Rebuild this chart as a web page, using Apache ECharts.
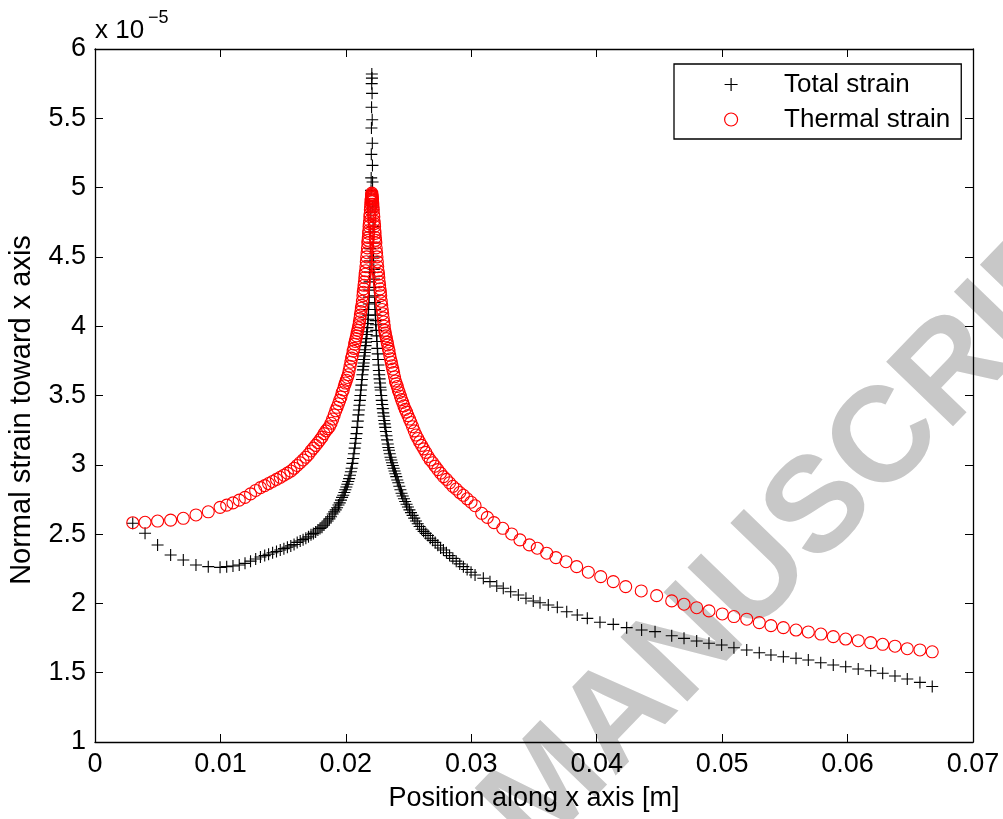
<!DOCTYPE html>
<html>
<head>
<meta charset="utf-8">
<script src="https://cdn.jsdelivr.net/npm/echarts@6/dist/echarts.min.js"></script>
<style>
html,body{margin:0;padding:0;background:#fff;}
#chart{width:1003px;height:819px;}
</style>
</head>
<body>
<div id="chart"></div>
<script>
// Strain values are in units of 1e-5 (axis multiplier "x 10^-5")
const xTickLabels = ['0','0.01','0.02','0.03','0.04','0.05','0.06','0.07'];
const yTickLabels = ['1','1.5','2','2.5','3','3.5','4','4.5','5','5.5','6'];
const seriesNames = ['Total strain','Thermal strain'];
const xAxisTitle = 'Position along x axis [m]';
const yAxisTitle = 'Normal strain toward x axis';

// shared positions (m) from x = 0.003 to 0.0303
const gridX = [
0.00301,0.00399,0.00499,0.00603,0.00704,0.00805,0.00903,0.00997,0.0105,0.011,
0.0115,0.01196,0.0124,0.01281,0.01319,0.01353,
0.01384,0.01416,0.01447,0.01477,0.01506,0.01534,0.01561,0.01587,0.01612,0.01636,
0.01659,0.01681,0.01702,0.01722,0.01741,0.01759,0.01777,0.01794,0.0181,0.01826,
0.01841,0.01855,0.01869,0.01882,0.01895,0.01907,0.01919,0.0193,0.01941,0.01951,
0.01961,0.0197,0.01979,0.01988,0.01996,0.02004,0.02012,0.02019,0.02026,0.02033,
0.0204,0.02046,0.02052,0.02058,0.02064,0.0207,0.02075,0.0208,0.02085,0.0209,
0.02095,0.021,0.02104,0.02108,0.02112,0.02116,0.0212,0.02124,0.02128,0.02132,
0.02136,0.02139,0.02142,0.02145,0.02148,0.02151,0.02154,0.02157,0.0216,0.02163,
0.02166,0.02169,0.02172,0.02175,0.02177,0.02179,0.02181,0.02183,0.02185,0.02187,
0.02189,0.02191,0.02193,0.02195,0.02197,0.02199,0.02201,0.02202,0.02203,0.02204,
0.02205,0.02206,
0.02207,
0.02208,0.02209,0.0221,0.02211,0.02212,0.02213,0.02215,0.02217,0.02219,0.02221,
0.02223,0.02225,0.02227,0.02229,0.02231,0.02233,0.02235,0.02237,0.02239,0.02242,
0.02245,0.02248,0.02251,0.02254,0.02257,0.0226,0.02263,0.02266,0.02269,0.02272,
0.02275,0.02278,0.02282,0.02286,0.0229,0.02294,0.02298,0.02302,0.02306,0.0231,
0.02314,0.02319,0.02324,0.02329,0.02334,0.02339,0.02344,0.0235,0.02356,0.02362,
0.02368,0.02374,0.02381,0.02388,0.02395,0.02402,0.0241,0.02418,0.02426,0.02435,
0.02444,0.02453,0.02463,0.02473,0.02484,0.02495,0.02507,0.02519,0.02532,0.02545,
0.02559,0.02573,0.02588,0.02604,0.0262,0.02637,0.02655,0.02673,0.02692,0.02712,
0.02733,0.02755,0.02778,0.02802,0.02827,0.02853,0.0288,0.02908,0.02937,0.02967,
0.02998,0.0303
];

// Total strain at gridX
const totalGridY = [
2.578,2.506,2.421,2.349,2.313,2.277,2.265,2.260,2.265,2.270,
2.277,2.289,2.305,2.32,2.335,2.345,
2.355,2.365,2.375,2.385,2.395,2.405,2.415,2.425,2.44,2.45,
2.46,2.47,2.48,2.495,2.505,2.515,2.53,2.54,2.55,2.565,
2.58,2.595,2.61,2.625,2.645,2.66,2.675,2.69,2.71,2.725,
2.745,2.765,2.78,2.80,2.82,2.84,2.86,2.88,2.90,2.925,
2.95,2.975,3.01,3.045,3.08,3.12,3.155,3.19,3.225,3.27,
3.315,3.36,3.395,3.43,3.465,3.50,3.54,3.575,3.615,3.65,
3.685,3.71,3.735,3.76,3.785,3.81,3.83,3.86,3.885,3.91,
3.94,3.96,3.99,4.02,4.05,4.08,4.12,4.16,4.21,4.26,
4.32,4.39,4.47,4.56,4.68,4.82,4.98,5.07,5.24,5.43,
5.58,5.75,
5.82,
5.79,5.68,5.49,5.32,5.16,5.04,4.86,4.72,4.60,4.50,
4.41,4.34,4.28,4.22,4.17,4.12,4.08,4.04,4.01,3.97,
3.93,3.89,3.84,3.80,3.76,3.72,3.68,3.65,3.62,3.59,
3.56,3.54,3.50,3.465,3.435,3.405,3.375,3.35,3.32,3.295,
3.27,3.24,3.21,3.18,3.15,3.125,3.105,3.08,3.055,3.035,
3.015,2.995,2.975,2.955,2.935,2.915,2.89,2.87,2.845,2.82,
2.795,2.775,2.755,2.735,2.715,2.695,2.675,2.655,2.635,2.615,
2.595,2.575,2.555,2.535,2.52,2.505,2.49,2.47,2.455,2.44,
2.42,2.40,2.385,2.365,2.345,2.325,2.305,2.285,2.265,2.245,
2.225,2.205
];

// Thermal strain at gridX
const thermalGridY = [
2.582,2.585,2.594,2.601,2.614,2.638,2.661,2.693,2.709,2.725,
2.745,2.765,2.79,2.815,2.835,2.85,
2.865,2.88,2.895,2.91,2.925,2.94,2.955,2.975,2.995,3.015,
3.035,3.055,3.075,3.10,3.12,3.14,3.16,3.18,3.20,3.225,
3.245,3.26,3.275,3.30,3.33,3.36,3.39,3.415,3.44,3.465,
3.49,3.52,3.54,3.57,3.59,3.61,3.63,3.65,3.68,3.71,
3.74,3.77,3.79,3.82,3.84,3.87,3.89,3.91,3.93,3.95,
3.97,3.99,4.01,4.03,4.055,4.08,4.105,4.13,4.15,4.18,
4.22,4.245,4.27,4.295,4.32,4.35,4.375,4.40,4.43,4.465,
4.50,4.53,4.565,4.60,4.62,4.64,4.67,4.69,4.72,4.74,
4.76,4.79,4.81,4.84,4.86,4.88,4.90,4.91,4.92,4.93,
4.94,4.95,
4.96,
4.95,4.94,4.93,4.92,4.91,4.90,4.88,4.86,4.84,4.81,
4.79,4.76,4.74,4.72,4.69,4.67,4.64,4.62,4.60,4.565,
4.53,4.50,4.465,4.43,4.40,4.375,4.35,4.32,4.295,4.27,
4.245,4.22,4.18,4.15,4.12,4.09,4.06,4.03,4.00,3.97,
3.95,3.93,3.91,3.885,3.865,3.84,3.82,3.79,3.765,3.74,
3.715,3.69,3.665,3.635,3.605,3.585,3.565,3.54,3.52,3.495,
3.47,3.45,3.425,3.40,3.38,3.355,3.33,3.305,3.275,3.245,
3.215,3.19,3.165,3.14,3.115,3.09,3.06,3.035,3.015,2.99,
2.965,2.94,2.915,2.895,2.87,2.845,2.825,2.80,2.78,2.755,
2.73,2.705
];

// coarser outer part, x > 0.0305
const totalTailX = [
0.03096,0.03149,0.03203,0.03255,0.03314,0.03375,0.03436,0.03494,0.03548,0.03614,
0.03686,0.03761,0.03845,0.03925,0.04026,0.04132,0.04239,0.04358,0.04465,0.04598,
0.04696,0.04797,0.04895,0.04996,0.05094,0.05196,0.05296,0.05389,0.05488,0.05589,
0.05687,0.05786,0.05886,0.05985,0.06085,0.06184,0.0628,0.06378,0.06476,0.06577,0.06675
];
const totalTailY = [
2.181,2.157,2.126,2.109,2.084,2.061,2.037,2.017,2.005,1.988,
1.972,1.940,1.916,1.892,1.864,1.849,1.825,1.808,1.796,1.767,
1.748,1.729,1.712,1.700,1.680,1.664,1.644,1.628,1.615,1.604,
1.592,1.572,1.556,1.543,1.527,1.514,1.496,1.476,1.455,1.43,1.40
];
const thermalTailX = [
0.03083,0.03128,0.03181,0.03251,0.03322,0.03388,0.03463,0.03526,0.03601,0.03675,
0.03755,0.0384,0.03933,0.04032,0.04132,0.04231,0.04355,0.04478,0.04598,0.04696,
0.04797,0.04895,0.05001,0.05094,0.05196,0.05296,0.05389,0.05488,0.05589,0.05687,
0.05787,0.05886,0.05985,0.06085,0.06184,0.0628,0.06378,0.06476,0.06577,0.06675
];
const thermalTailY = [
2.650,2.621,2.583,2.542,2.501,2.458,2.422,2.398,2.362,2.330,
2.301,2.265,2.225,2.193,2.157,2.121,2.090,2.056,2.018,1.994,
1.969,1.946,1.924,1.905,1.886,1.861,1.840,1.825,1.808,1.794,
1.779,1.760,1.743,1.731,1.717,1.705,1.691,1.673,1.664,1.651
];

const FONT = '"Liberation Sans", Arial, Helvetica, sans-serif';
const PLUS = 'path://M6,0L6,12M0,6L12,6';

function zip(xs, ys){ return xs.map((x,i)=>[x, ys[i]]); }
const totalData = zip(gridX.concat(totalTailX), totalGridY.concat(totalTailY));
const thermalData = zip(gridX.concat(thermalTailX), thermalGridY.concat(thermalTailY));

const chart = echarts.init(document.getElementById('chart'), null, {renderer:'canvas'});

const axisLine = {show:true, onZero:false, lineStyle:{color:'#000', width:1.3}};
const axisTick = {show:true, inside:true, length:8, lineStyle:{color:'#000', width:1}};

const option = {
  backgroundColor:'#fff',
  animation:false,
  textStyle:{fontFamily:FONT},
  grid:{left:95, right:30, top:49, bottom:77, containLabel:false},
  xAxis:[
    {type:'value', position:'bottom', min:0, max:0.07, interval:0.01,
     axisLine:axisLine, axisTick:axisTick, splitLine:{show:false},
     axisLabel:{color:'#000', fontSize:27, fontFamily:FONT, margin:9,
       formatter:(v)=>xTickLabels[Math.round(v/0.01)]},
     name:xAxisTitle, nameLocation:'middle', nameGap:43,
     nameTextStyle:{color:'#000', fontSize:27, fontFamily:FONT}},
    {type:'value', position:'top', min:0, max:0.07, interval:0.01,
     axisLine:axisLine, axisTick:axisTick, splitLine:{show:false}, axisLabel:{show:false}}
  ],
  yAxis:[
    {type:'value', position:'left', min:1, max:6, interval:0.5,
     axisLine:axisLine, axisTick:axisTick, splitLine:{show:false},
     axisLabel:{color:'#000', fontSize:27, fontFamily:FONT, margin:9,
       formatter:(v)=>yTickLabels[Math.round((v-1)/0.5)]}},
    {type:'value', position:'right', min:1, max:6, interval:0.5,
     axisLine:axisLine, axisTick:axisTick, splitLine:{show:false}, axisLabel:{show:false}}
  ],
  legend:{
    orient:'vertical', left:674, top:64,
    padding:[6,11,5,50], itemWidth:96, itemHeight:13, itemGap:6,
    borderColor:'#000', borderWidth:1.3, backgroundColor:'#fff',
    textStyle:{fontSize:26, color:'#000', fontFamily:FONT, lineHeight:29},
    data:[
      {name:seriesNames[0], icon:PLUS, itemStyle:{color:'rgba(0,0,0,0)', borderColor:'#000', borderWidth:1.2}},
      {name:seriesNames[1], icon:'circle', itemStyle:{color:'rgba(0,0,0,0)', borderColor:'#ff0000', borderWidth:1.2}}
    ]
  },
  graphic:[
    {type:'text', silent:true, z:-10, x:550, y:790, rotation:46*Math.PI/180,
     style:{text:'ACCEPTED MANUSCRIPT', font:'bold 135px ' + FONT, fill:'#c8c8c8',
       textAlign:'center', textVerticalAlign:'middle'}},
    {type:'text', silent:true, x:22, y:410, rotation:Math.PI/2,
     style:{text:yAxisTitle, font:'29px ' + FONT, fill:'#000', textAlign:'center', textVerticalAlign:'middle'}},
    {type:'text', silent:true, x:95, y:44,
     style:{text:'x 10', font:'26px ' + FONT, fill:'#000', textAlign:'left', textVerticalAlign:'bottom'}},
    {type:'text', silent:true, x:148, y:27,
     style:{text:'\u22125', font:'18px ' + FONT, fill:'#000', textAlign:'left', textVerticalAlign:'bottom'}}
  ],
  series:[
    {name:seriesNames[0], type:'scatter', xAxisIndex:0, yAxisIndex:0,
     symbol:PLUS, symbolSize:12, data:totalData, large:false,
     itemStyle:{color:'rgba(0,0,0,0)', borderColor:'#000', borderWidth:1.1, opacity:1},
     emphasis:{disabled:true}, z:2},
    {name:seriesNames[1], type:'scatter', xAxisIndex:0, yAxisIndex:0,
     symbol:'circle', symbolSize:12, data:thermalData, large:false,
     itemStyle:{color:'rgba(0,0,0,0)', borderColor:'#ff0000', borderWidth:1.1, opacity:1},
     emphasis:{disabled:true}, z:3}
  ]
};
chart.setOption(option);
</script>
</body>
</html>
